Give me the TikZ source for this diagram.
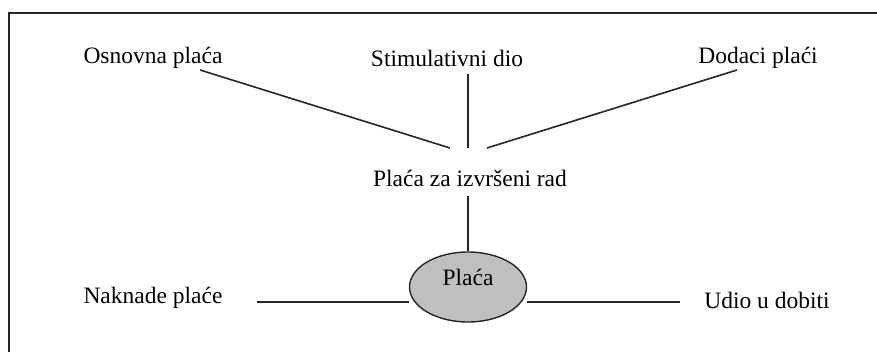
\documentclass[tikz,border=0pt]{standalone}
\usepackage{fontspec}
\setmainfont{Liberation Serif}
\usetikzlibrary{shapes.geometric}
\begin{document}
\begin{tikzpicture}[x=1pt,y=-1pt,
  lbl/.style={inner sep=0pt,font=\fontsize{23.5}{25}\selectfont},
  conn/.style={line width=1.6pt,draw=black!85},
  oval/.style={ellipse,draw=black!85,line width=1.4pt,fill=black!25,minimum width=117pt,minimum height=70pt,inner sep=0pt}]
\useasboundingbox (0,0) rectangle (877,352);
\draw[line width=2pt,draw=black!85] (9,352) -- (9,13) -- (877,13);
\node[lbl] (osn) at (153,58) {Osnovna plaća};
\node[lbl] (stim) at (447,58) {Stimulativni dio};
\node[lbl] (dod) at (758,58) {Dodaci plaći};
\node[lbl] (pzr) at (470,178) {Plaća za izvršeni rad};
\node[oval] (pl) at (468,287) {};
\node[lbl] at (468,277) {Plaća};
\node[lbl] (nak) at (153,298) {Naknade plaće};
\node[lbl] (udio) at (767,300) {Udio u dobiti};
\coordinate (a1) at (200,70); \coordinate (a2) at (450,148);
\coordinate (b1) at (468,74); \coordinate (b2) at (468,148);
\coordinate (c1) at (737,70); \coordinate (c2) at (487,148);
\coordinate (d1) at (468,196);
\coordinate (e1) at (257,302); \coordinate (f1) at (680,302);
\draw[conn] (a1) -- (a2);
\draw[conn] (b1) -- (b2);
\draw[conn] (c1) -- (c2);
\draw[conn] (d1) -- (pl.north);
\draw[conn] (e1) -- (pl.west |- e1);
\draw[conn] (pl.east |- f1) -- (f1);
\end{tikzpicture}
\end{document}
